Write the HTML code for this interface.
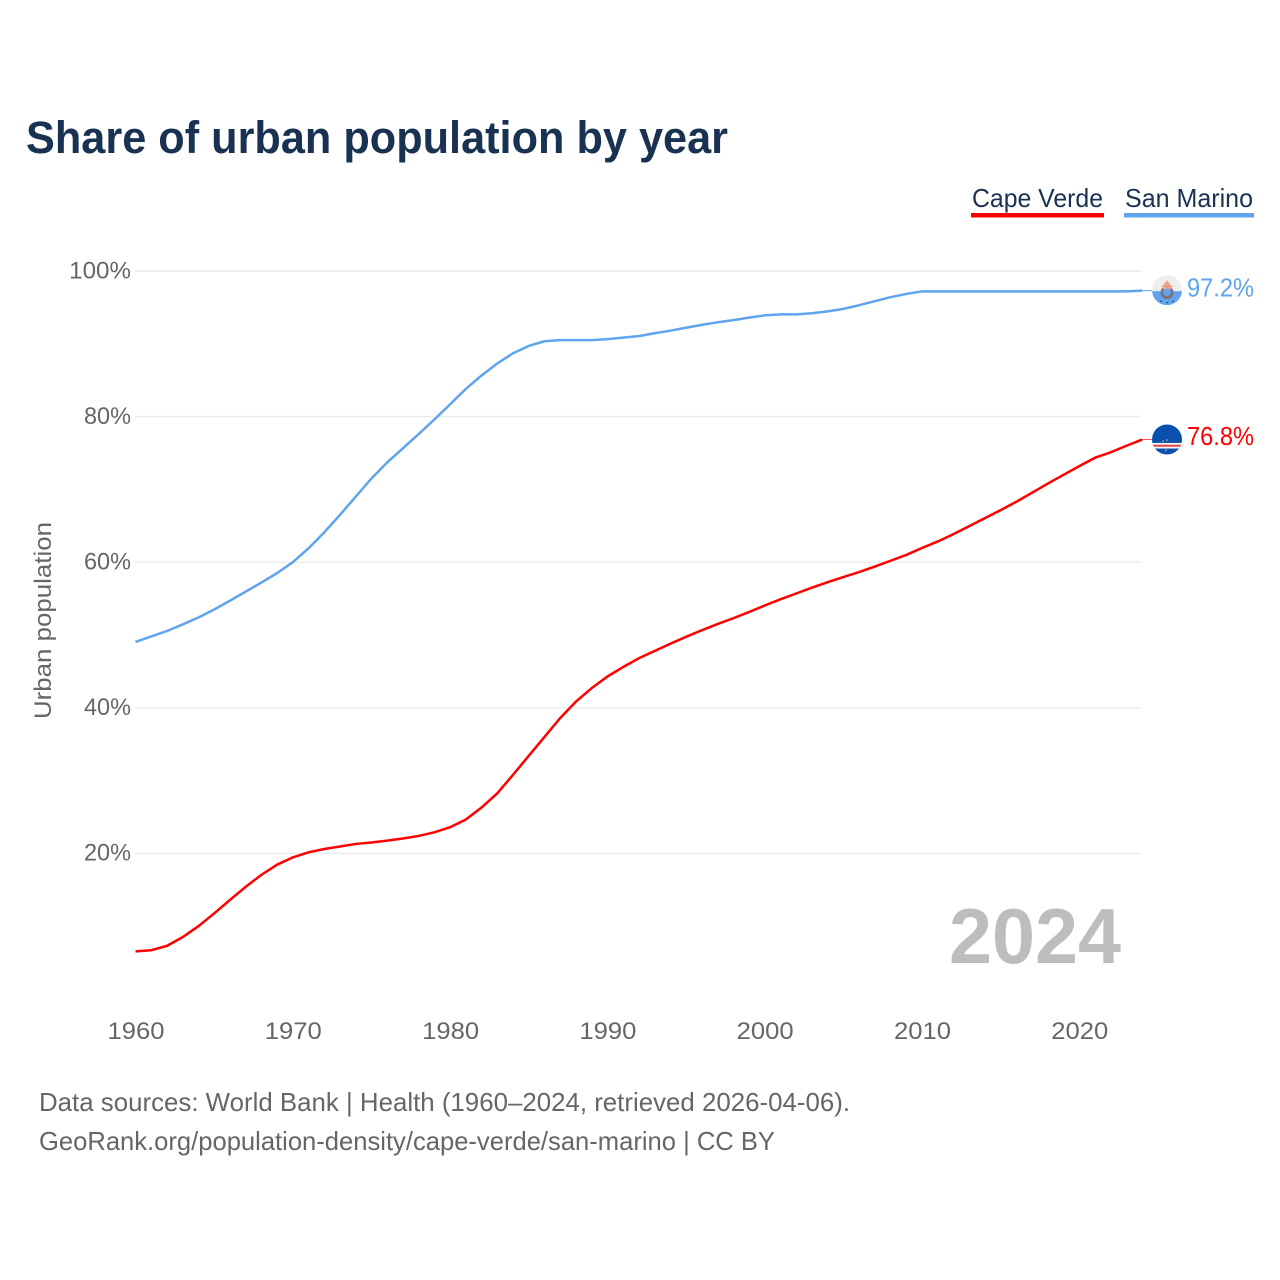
<!DOCTYPE html>
<html lang="en">
<head>
<meta charset="utf-8">
<title>Share of urban population by year</title>
<style>
html,body{margin:0;padding:0;background:#fff;}
svg{display:block;}
text{font-family:"Liberation Sans",sans-serif;}
</style>
</head>
<body>
<svg id="chart" xmlns="http://www.w3.org/2000/svg" width="1280" height="1280" viewBox="0 0 1280 1280">
  <defs>
    <clipPath id="clip-sm"><circle id="clip-sm-c" r="15"></circle></clipPath>
    <clipPath id="clip-cv"><circle id="clip-cv-c" r="15"></circle></clipPath>
  </defs>
  <rect width="1280" height="1280" fill="#fff"></rect>
  <text x="26" y="153" font-size="45" font-weight="700" fill="#1a3252" textLength="702" lengthAdjust="spacingAndGlyphs">Share of urban population by year</text>

  <g>
    <g>
      <text x="972" y="207" font-size="26" fill="#1a3252" textLength="131" lengthAdjust="spacingAndGlyphs">Cape Verde</text>
      <rect x="971" y="213" width="133" height="4.5" fill="#ff0000"></rect>
    </g>
    <g>
      <text x="1125" y="207" font-size="26" fill="#1a3252" textLength="128" lengthAdjust="spacingAndGlyphs">San Marino</text>
      <rect x="1124" y="213" width="130" height="4.5" fill="#5fa4ec"></rect>
    </g>
  </g>

  <g id="grid"></g>
  <g id="yticks"></g>
  <g id="xticks"></g>
  <text transform="translate(51,719) rotate(-90)" font-size="24" fill="#666" textLength="197" lengthAdjust="spacingAndGlyphs">Urban population</text>
  <text x="949" y="963" font-size="78" font-weight="700" fill="#bdbdbd" textLength="172" lengthAdjust="spacingAndGlyphs">2024</text>
  <g id="series"></g>

  <g id="flag-sm" clip-path="url(#clip-sm)">
    <rect x="-15" y="-15" width="30" height="16" fill="#eeeeee"></rect>
    <rect x="-15" y="1" width="30" height="15" fill="#5fa4ec"></rect>
    <path d="M0,-10 L3,-6 L6,-3 L-6,-3 L-3,-6 Z" fill="#f5a08c"></path>
    <ellipse cx="0" cy="2.5" rx="6.5" ry="6.5" fill="#7d7378"></ellipse>
    <ellipse cx="0" cy="1.5" rx="4" ry="4.5" fill="#5fa4ec"></ellipse>
    <path d="M-4,-3.5 L4,-3.5 L4,-1 L-4,-1 Z" fill="#f5a08c"></path>
    <circle cx="-6" cy="11" r="0.7" fill="#223"></circle>
    <circle cx="0" cy="12.5" r="0.7" fill="#223"></circle>
    <circle cx="6" cy="11" r="0.7" fill="#223"></circle>
  </g>
  <g id="flag-cv" clip-path="url(#clip-cv)">
    <rect x="-15" y="-16" width="30" height="32" fill="#0a50ae"></rect>
    <rect x="-15" y="3.4" width="30" height="5.6" fill="#f4f4f4"></rect>
    <rect x="-15" y="5.2" width="30" height="2" fill="#e8434a"></rect>
    <circle cx="-4" cy="1.5" r="0.8" fill="#d9c98a"></circle>
    <circle cx="0" cy="0.5" r="0.8" fill="#d9c98a"></circle>
    <circle cx="-1" cy="10.5" r="0.8" fill="#d9c98a"></circle>
  </g>
  <g id="end-labels"></g>

  <text x="39" y="1111" font-size="26" fill="#666" textLength="811" lengthAdjust="spacingAndGlyphs">Data sources: World Bank | Health (1960–2024, retrieved 2026-04-06).</text>
  <text x="39" y="1150" font-size="26" fill="#666" textLength="736" lengthAdjust="spacingAndGlyphs">GeoRank.org/population-density/cape-verde/san-marino | CC BY</text>
</svg>
<script>
const years = [1960,1961,1962,1963,1964,1965,1966,1967,1968,1969,1970,1971,1972,1973,1974,1975,1976,1977,1978,1979,1980,1981,1982,1983,1984,1985,1986,1987,1988,1989,1990,1991,1992,1993,1994,1995,1996,1997,1998,1999,2000,2001,2002,2003,2004,2005,2006,2007,2008,2009,2010,2011,2012,2013,2014,2015,2016,2017,2018,2019,2020,2021,2022,2023,2024];
const capeVerde = [6.55,6.7,7.3,8.5,10.0,11.75,13.6,15.4,17.05,18.45,19.45,20.15,20.6,20.95,21.3,21.5,21.75,22.05,22.4,22.9,23.6,24.65,26.3,28.25,30.8,33.4,36.0,38.6,40.85,42.7,44.3,45.6,46.8,47.8,48.8,49.75,50.65,51.5,52.3,53.15,54.05,54.9,55.7,56.5,57.25,57.95,58.65,59.4,60.2,61.0,61.95,62.85,63.85,64.95,66.05,67.15,68.3,69.55,70.8,72.0,73.2,74.35,75.1,76.0,76.85];
const sanMarino = [49.05,49.8,50.55,51.45,52.4,53.5,54.7,55.95,57.2,58.5,60.0,61.9,64.1,66.5,69.0,71.5,73.7,75.65,77.6,79.6,81.7,83.8,85.65,87.3,88.7,89.7,90.35,90.5,90.5,90.5,90.65,90.85,91.05,91.45,91.8,92.2,92.6,92.95,93.25,93.6,93.9,94.05,94.05,94.2,94.45,94.8,95.3,95.85,96.4,96.85,97.2,97.2,97.2,97.2,97.2,97.2,97.2,97.2,97.2,97.2,97.2,97.2,97.2,97.2,97.3];
const yTickValues = [20,40,60,80,100];
const yTickLabels = ["20%","40%","60%","80%","100%"];
const xTickValues = [1960,1970,1980,1990,2000,2010,2020];
const xTickLabels = ["1960","1970","1980","1990","2000","2010","2020"];
const capeVerdeLabel = "76.8%";
const sanMarinoLabel = "97.2%";

const NS = "http://www.w3.org/2000/svg";
function xScale(year){ return 135.5 + (year - 1960) * 15.73; }
function yScale(v){ return 999 - v * 7.28; }
function make(tag, attrs, parent){
  const el = document.createElementNS(NS, tag);
  for (const k in attrs) el.setAttribute(k, attrs[k]);
  parent.appendChild(el);
  return el;
}

const grid = document.getElementById("grid");
const yticks = document.getElementById("yticks");
yTickValues.forEach(function(v, i){
  const g = make("line", {x1:135, x2:1141.5, y1:yScale(v), y2:yScale(v), stroke:"#ececec", "stroke-width":1.4}, grid);
  
  
  const label = yTickLabels[i];
  const t = make("text", {x:131, y:yScale(v)+7.3, "text-anchor":"end", "font-size":24, fill:"#666", textLength:label.length*14.8+2.6, lengthAdjust:"spacingAndGlyphs"}, yticks);
  t.textContent = label;
  
  
});

const xticks = document.getElementById("xticks");
xTickValues.forEach(function(yr, i){
  const t = make("text", {x:xScale(yr)+0.5, y:1039, "text-anchor":"middle", "font-size":24, fill:"#666", textLength:57, lengthAdjust:"spacingAndGlyphs"}, xticks);
  t.textContent = xTickLabels[i];
  
  
});

function pathFor(values){
  return values.map(function(v, i){
    return (i ? "L" : "M") + xScale(years[i]).toFixed(2) + "," + yScale(v).toFixed(2);
  }).join(" ");
}

const series = document.getElementById("series");
const lineSm = make("path", {d:pathFor(sanMarino), fill:"none", stroke:"#5fa4ec", "stroke-width":2.5, "stroke-linejoin":"round"}, series);


const lineCv = make("path", {d:pathFor(capeVerde), fill:"none", stroke:"#ff0000", "stroke-width":2.5, "stroke-linejoin":"round"}, series);



const lastYear = years[years.length - 1];
const lastSm = sanMarino[sanMarino.length - 1];
const lastCv = capeVerde[capeVerde.length - 1];
const connSm = make("line", {x1:xScale(lastYear), x2:1152, y1:yScale(lastSm), y2:yScale(lastSm), stroke:"#5fa4ec", "stroke-width":1}, series);


const connCv = make("line", {x1:xScale(lastYear), x2:1152, y1:yScale(lastCv), y2:yScale(lastCv), stroke:"#ff0000", "stroke-width":1, "stroke-opacity":0.7}, series);



document.getElementById("flag-sm").setAttribute("transform", "translate(1167," + (yScale(lastSm) - 0.5) + ")");
document.getElementById("flag-cv").setAttribute("transform", "translate(1167," + yScale(lastCv) + ")");

const endLabels = document.getElementById("end-labels");
const labelSm = make("text", {x:1187, y:yScale(lastSm)+5.7, "font-size":26, fill:"#5fa4ec", textLength:67, lengthAdjust:"spacingAndGlyphs"}, endLabels);
labelSm.textContent = sanMarinoLabel;


const labelCv = make("text", {x:1187, y:yScale(lastCv)+5.7, "font-size":26, fill:"#ff0000", textLength:67, lengthAdjust:"spacingAndGlyphs"}, endLabels);
labelCv.textContent = capeVerdeLabel;


</script>
</body>
</html>
